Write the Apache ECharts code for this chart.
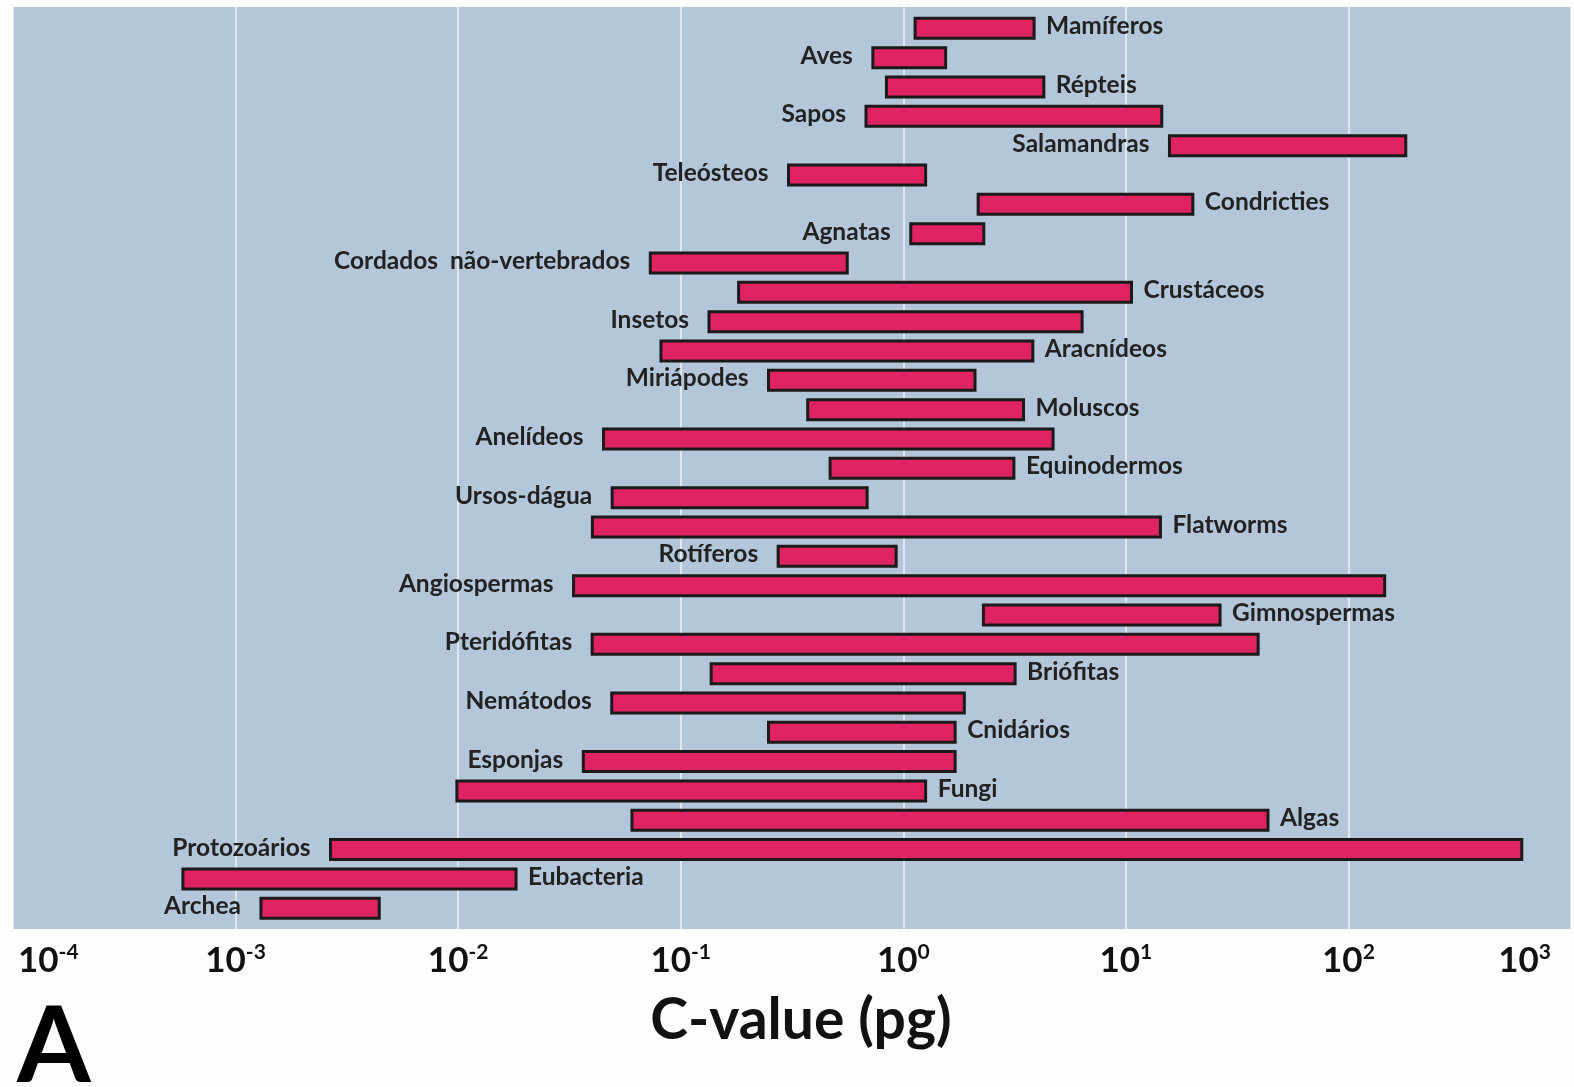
<!DOCTYPE html>
<html>
<head>
<meta charset="utf-8">
<title>C-value (pg)</title>
<script src="https://cdn.jsdelivr.net/npm/echarts@6.0.0/dist/echarts.min.js"></script>
<style>
  html, body { margin: 0; padding: 0; background: #fdfdfb; }
  #chart { width: 1574px; height: 1087px; }
</style>
</head>
<body>
<div id="chart"></div>
<script>
// grupos, de cima para baixo
var categories = [
  'Mamíferos', 'Aves', 'Répteis', 'Sapos', 'Salamandras', 'Teleósteos',
  'Condricties', 'Agnatas', 'Cordados  não-vertebrados', 'Crustáceos',
  'Insetos', 'Aracnídeos', 'Miriápodes', 'Moluscos', 'Anelídeos',
  'Equinodermos', 'Ursos-dágua', 'Flatworms', 'Rotíferos', 'Angiospermas',
  'Gimnospermas', 'Pteridófitas', 'Briófitas', 'Nemátodos', 'Cnidários',
  'Esponjas', 'Fungi', 'Algas', 'Protozoários', 'Eubacteria', 'Archea'
];
// C-value minimo e maximo (pg)
var minValues = [
  1.13, 0.73, 0.84, 0.68, 15.7, 0.305,
  2.17, 1.08, 0.073, 0.182,
  0.134, 0.0815, 0.248, 0.372, 0.045,
  0.469, 0.0492, 0.0401, 0.274, 0.033,
  2.29, 0.040, 0.137, 0.049, 0.248,
  0.0365, 0.00987, 0.0604, 0.00267, 0.00058, 0.0013
];
var maxValues = [
  3.87, 1.55, 4.28, 14.5, 181, 1.26,
  20.0, 2.30, 0.56, 10.6,
  6.36, 3.82, 2.10, 3.47, 4.71,
  3.14, 0.688, 14.3, 0.929, 145.5,
  26.5, 39.3, 3.18, 1.88, 1.71,
  1.71, 1.26, 43.5, 601, 0.0182, 0.00442
];
// lado do rotulo: l = esquerda, r = direita
var labelSide = [
  'r', 'l', 'r', 'l', 'l', 'l',
  'r', 'l', 'l', 'r',
  'l', 'r', 'l', 'r', 'l',
  'r', 'l', 'r', 'l', 'l',
  'r', 'l', 'r', 'l', 'r',
  'l', 'r', 'r', 'l', 'r', 'l'
];

var data = categories.map(function (c, i) {
  return [minValues[i], maxValues[i], i];
});

var chart = echarts.init(document.getElementById('chart'));
var font = 'Lato, "Open Sans", sans-serif';

var option = {
  backgroundColor: '#fdfdfb',
  animation: false,
  grid: {
    left: 13,
    right: -4,
    top: 7,
    bottom: 158,
    show: true,
    backgroundColor: '#b4c6d9',
    borderWidth: 0
  },
  xAxis: {
    type: 'log',
    logBase: 10,
    min: 0.0001,
    max: 1000,
    splitNumber: 7,
    axisLine: { show: false },
    axisTick: { show: false },
    splitLine: { show: true, lineStyle: { color: 'rgba(255,255,255,0.75)', width: 1.5 } },
    axisLabel: {
      margin: 13,
      showMinLabel: true,
      showMaxLabel: true,
      alignMinLabel: 'left',
      alignMaxLabel: 'right',
      formatter: function (v) {
        var e = Math.round(Math.log(v) / Math.LN10);
        if (e === -4) return '{bf|10}{s|' + e + '}';
        if (e === 3) return '{b|10}{sl|' + e + '}';
        return '{b|10}{s|' + e + '}';
      },
      rich: {
        b: { fontSize: 35, fontWeight: 'bold', fontFamily: font, color: '#111', lineHeight: 38 },
        bf: { fontSize: 35, fontWeight: 'bold', fontFamily: font, color: '#111', lineHeight: 38, padding: [0, 0, 0, 5] },
        s: { fontSize: 21, fontWeight: 'bold', fontFamily: font, color: '#111', lineHeight: 22, verticalAlign: 'top' },
        sl: { fontSize: 21, fontWeight: 'bold', fontFamily: font, color: '#111', lineHeight: 22, verticalAlign: 'top', padding: [0, 20, 0, 0] }
      }
    },
    name: 'C-value (pg)',
    nameLocation: 'middle',
    nameGap: 63,
    nameTextStyle: { fontSize: 57, fontWeight: 'bold', fontFamily: font, color: '#111', padding: [0, 0, 0, 18] }
  },
  yAxis: {
    type: 'value',
    inverse: true,
    min: -0.726,
    max: 30.706,
    show: false,
    splitLine: { show: false }
  },
  graphic: [{
    type: 'text',
    left: 17,
    top: 995,
    style: { text: 'A', font: 'bold 106px ' + font, fill: '#000' }
  }],
  series: [{
    type: 'custom',
    data: data,
    encode: { x: [0, 1], y: 2 },
    renderItem: function (params, api) {
      var i = api.value(2);
      var p0 = api.coord([api.value(0), i]);
      var p1 = api.coord([api.value(1), i]);
      var h = 20;
      var left = labelSide[i] === 'l';
      return {
        type: 'group',
        children: [{
          type: 'rect',
          shape: { x: p0[0], y: p0[1] - h / 2, width: p1[0] - p0[0], height: h },
          style: { fill: '#de2262', stroke: '#1a1a1a', lineWidth: 3 }
        }, {
          type: 'text',
          x: left ? p0[0] - 20 : p1[0] + 12,
          y: p0[1] - 2,
          style: {
            text: categories[i],
            fill: '#222',
            font: 'bold 24.5px ' + font,
            align: left ? 'right' : 'left',
            verticalAlign: 'middle'
          }
        }]
      };
    }
  }]
};

chart.setOption(option);
</script>
</body>
</html>
